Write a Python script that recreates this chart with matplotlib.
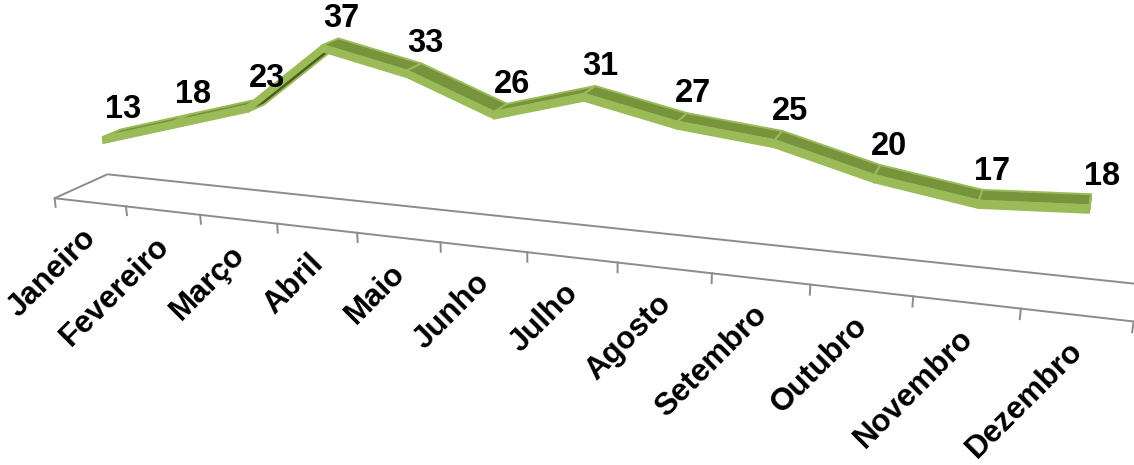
import numpy as np
import matplotlib
matplotlib.use("Agg")
import matplotlib.pyplot as plt
from matplotlib.patches import Polygon

# ---- data ----
months = ["Janeiro", "Fevereiro", "Março", "Abril", "Maio", "Junho",
          "Julho", "Agosto", "Setembro", "Outubro", "Novembro", "Dezembro"]
values = [13, 18, 23, 37, 33, 26, 31, 27, 25, 20, 17, 18]

# ---- 3D perspective camera (category, depth, value) -> canvas pixels ----
CAM = np.array([[69.08661, 58.27207, -0.5726856, 54.60363],
                [4.365261, -15.09807, -4.514818, 198.2233],
                [-0.01837342, 0.05071007, -0.001006165, 1.0]])
D_FRONT, D_BACK, THICK = 0.35, 0.70, 1.4

LIGHT = "#9BBB59"
DARK = "#77933C"
UNDER = "#4A5E22"
GRID = "#8C8C8C"
FONT = "Liberation Sans"

W, H = 1134, 465


def proj(u, d, h):
    u, d, h = np.broadcast_arrays(np.asarray(u, float), np.asarray(d, float),
                                  np.asarray(h, float))
    P = np.stack([u.ravel(), d.ravel(), h.ravel(), np.ones(u.size)])
    q = CAM @ P
    return (q[0] / q[2]).reshape(u.shape), (q[1] / q[2]).reshape(u.shape)


def area(xs, ys):
    return 0.5 * np.sum(xs * np.roll(ys, -1) - np.roll(xs, -1) * ys)


fig = plt.figure(figsize=(W / 100, H / 100), dpi=100)
ax = fig.add_axes([0, 0, 1, 1])
ax.set_xlim(0, W)
ax.set_ylim(H, 0)
ax.axis("off")

n = len(months)

# ---- floor ----
for uu, dd in [([0, n], [0, 0]), ([0, n], [1, 1]), ([0, 0], [0, 1])]:
    x, y = proj(uu, dd, [0, 0])
    ax.plot(x, y, color=GRID, lw=1.4, solid_capstyle="butt", zorder=1)
for k in range(n + 1):
    x, y = proj([k, k], [0, 0], [0, -2])
    ax.plot(x, y, color=GRID, lw=1.4, zorder=1)

# ---- ribbon ----
u = np.arange(n) + 0.5
v = np.asarray(values, float)

for i in range(n - 1):
    uu = np.array([u[i], u[i + 1], u[i + 1], u[i]])
    dd = np.array([D_FRONT, D_FRONT, D_BACK, D_BACK])
    vv = np.array([v[i], v[i + 1], v[i + 1], v[i]])
    xt, yt = proj(uu, dd, vv)
    xr, yr = proj(uu, dd, np.zeros(4))
    if np.sign(area(xt, yt)) == np.sign(area(xr, yr)):
        pts, col = np.column_stack([xt, yt]), DARK
    else:
        xb, yb = proj(uu, dd, vv - THICK)
        pts, col = np.column_stack([xb, yb]), UNDER
    ax.add_patch(Polygon(pts, closed=True, facecolor=col, edgecolor=LIGHT,
                         lw=1.4, joinstyle="miter", zorder=2))

# end cap
xe, ye = proj([u[-1]] * 4, [D_FRONT, D_BACK, D_BACK, D_FRONT],
              [v[-1], v[-1], v[-1] - THICK, v[-1] - THICK])
ax.add_patch(Polygon(np.column_stack([xe, ye]), closed=True, facecolor=LIGHT,
                     edgecolor=LIGHT, lw=1.4, zorder=2))

for i in range(n - 1):
    uu = [u[i], u[i + 1], u[i + 1], u[i]]
    vv = [v[i], v[i + 1], v[i + 1] - THICK, v[i] - THICK]
    xf, yf = proj(uu, [D_FRONT] * 4, vv)
    ax.add_patch(Polygon(np.column_stack([xf, yf]), closed=True,
                         facecolor=LIGHT, edgecolor=LIGHT, lw=1.2,
                         joinstyle="miter", zorder=3))

# ---- data labels ----
lx, ly = proj(u, (D_FRONT + D_BACK) / 2, v)
for xi, yi, val in zip(lx, ly, values):
    ax.annotate(str(val), (xi, yi), xytext=(8, 17), textcoords="offset points",
                ha="center", va="center", fontsize=23.5, fontweight="bold",
                family=FONT, color="black", zorder=5)

# ---- category labels ----
tx, ty = proj(u, 0, 0)
for xi, yi, name in zip(tx, ty, months):
    ax.annotate(name, (xi, yi), xytext=(1.5, -22.5), textcoords="offset points",
                ha="right", va="center", rotation=45, rotation_mode="anchor",
                fontsize=22.5, fontweight="bold", family=FONT, color="black",
                zorder=5)

fig.savefig("out.png", dpi=100)
